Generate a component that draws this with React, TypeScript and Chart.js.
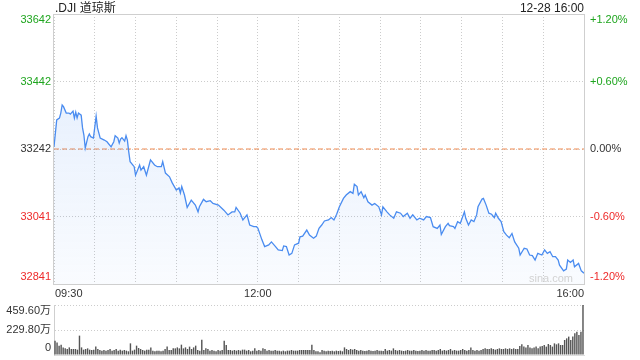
import React, { useEffect, useRef } from "react";
import { Chart, registerables } from "chart.js";

Chart.register(...registerables);

const title = ".DJI 道琼斯";
const stamp = "12-28 16:00";
const watermark = "sina.com";

const minutes = [0,2,4,5,6,7,9,11,12,14,
15,16,17,18,20,21,22,23,25,26,
27,29,31,32,34,37,39,42,44,45,
47,48,49,50,52,53,54,55,56,59,
60,63,64,66,68,70,71,74,76,79,
80,82,85,87,90,92,93,94,96,98,
101,104,106,107,110,112,115,117,121,125,
128,131,133,134,137,139,142,144,147,149,
150,153,155,158,160,163,165,168,169,171,
173,175,177,180,181,183,186,188,191,193,
195,197,199,202,204,206,208,210,213,215,
218,220,221,223,224,226,228,229,231,234,
236,239,241,242,245,247,250,252,255,257,
260,262,264,267,269,272,274,277,279,282,
284,285,288,290,291,294,295,297,299,302,
303,305,307,309,311,312,315,316,318,320,
322,324,325,327,329,331,333,335,337,339,
342,343,346,348,350,352,354,356,359,361,
363,365,367,369,371,372,375,377,378,380,
382,383,386,388,390];

const prices = [33248,33328,33333,33348,33372,33367,33348,33348,33345,33354,
33333,33351,33334,33348,33342,33304,33283,33244,33278,33286,
33278,33274,33339,33304,33274,33268,33263,33248,33263,33281,
33274,33259,33271,33275,33265,33281,33268,33233,33204,33189,
33164,33194,33179,33189,33164,33194,33209,33194,33189,33189,
33204,33170,33159,33141,33120,33126,33111,33130,33105,33068,
33090,33075,33055,33070,33092,33085,33088,33080,33075,33060,
33046,33055,33055,33068,33051,33031,33046,33016,33011,33011,
33007,32972,32952,32957,32966,32952,32942,32940,32954,32952,
32927,32932,32957,32962,32981,32983,33001,32986,32977,32983,
33006,33016,33028,33031,33038,33031,33048,33070,33095,33105,
33115,33110,33137,33130,33105,33115,33097,33105,33085,33075,
33080,33070,33046,33070,33055,33046,33036,33055,33051,33041,
33051,33036,33046,33031,33036,33031,33041,33038,33011,33006,
33016,32988,33011,33021,33014,33011,33006,33026,33021,33055,
33036,33016,33031,33026,33046,33070,33093,33095,33075,33051,
33048,33038,33051,33036,33026,32996,32986,32978,32991,32966,
32947,32927,32947,32945,32927,32925,32912,32932,32927,32942,
32932,32937,32922,32922,32912,32897,32880,32885,32912,32905,
32912,32892,32902,32880,32873];

const prevClose = 33241.5;
const priceMin = 32841;
const priceMax = 33642;
const priceLabels = ["33642", "33442", "33242", "33041", "32841"];
const pctLabels = ["+1.20%", "+0.60%", "0.00%", "-0.60%", "-1.20%"];
const timeLabels = ["09:30", "12:00", "16:00"];
const timeLabelMinutes = [0, 150, 390];
const sessionMinutes = 390;

const volumes = [132,116,86,95,70,61,55,70,55,55,
55,49,178,70,49,55,61,49,46,49,
77,55,46,40,46,40,46,55,40,46,
55,40,49,40,46,40,34,107,40,49,
86,64,55,46,40,49,49,70,40,34,
40,40,34,40,55,77,46,46,61,61,
70,61,95,61,70,55,77,55,70,86,
46,40,141,46,61,55,40,46,40,34,
46,40,46,132,92,46,46,40,46,40,
46,40,49,49,40,46,34,40,61,40,
46,40,61,55,40,46,40,40,46,40,
40,34,40,34,40,40,46,40,40,40,
46,46,46,46,46,46,95,46,34,34,
25,46,
40,34,40,37,40,34,40,37,40,34,
70,55,46,55,49,55,46,
40,46,40,37,40,46,40,37,40,46,40,40,37,
55,40,46,40,61,
46,40,46,40,37,40,46,40,40,46,40,37,40,46,40,46,40,40,46,
46,40,46,55,40,46,40,46,55,40,46,40,40,46,55,46,40,46,
70,46,40,46,40,46,
55,61,55,55,61,55,49,55,61,55,
55,61,55,61,55,61,55,55,
83,98,77,70,92,70,61,70,77,61,77,83,92,77,101,92,77,107,98,107,92,92,138,153,169,138,169,199,214,184,214,459.6];

const volMax = 459.6;
const volTickValues = [459.6, 229.8, 0];
const volTickLabels = ["459.60万", "229.80万", "0"];

const FONT = 'Arial, "Liberation Sans", "Noto Sans CJK SC", sans-serif';
const GREEN = "#1ea51e";
const RED = "#ee2a2a";
const DARK = "#333333";
const GRID = "#cccccc";
const BORDER = "#cfcfcf";

const mainPlugin = {
  id: "mainLabels",
  beforeDatasetsDraw(chart: any) {
    const { ctx, chartArea: a } = chart;
    ctx.save();
    ctx.strokeStyle = BORDER;
    ctx.lineWidth = 1;
    ctx.strokeRect(Math.round(a.left) - 0.5, Math.round(a.top) + 0.5, Math.round(a.right - a.left) + 1, Math.round(a.bottom - a.top));
    ctx.restore();
  },
  afterDraw(chart: any) {
    const { ctx, chartArea: a, scales } = chart;
    const ys = scales.y;
    const xs = scales.x;
    ctx.save();
    ctx.textBaseline = "middle";
    ctx.font = `11px ${FONT}`;
    const n = priceLabels.length;
    for (let i = 0; i < n; i++) {
      const v = priceMax - (i * (priceMax - priceMin)) / (n - 1);
      let py = ys.getPixelForValue(v);
      if (i === 0) py += 6;
      if (i === n - 1) py -= 7;
      ctx.fillStyle = i < (n - 1) / 2 ? GREEN : i === (n - 1) / 2 ? DARK : RED;
      ctx.textAlign = "right";
      ctx.fillText(priceLabels[i], a.left - 3, py);
      ctx.textAlign = "left";
      ctx.fillText(pctLabels[i], a.right + 6, py);
    }
    ctx.fillStyle = DARK;
    timeLabels.forEach((t, i) => {
      const px = xs.getPixelForValue(timeLabelMinutes[i]);
      ctx.textAlign = i === 0 ? "left" : i === timeLabels.length - 1 ? "right" : "center";
      ctx.fillText(t, i === 0 ? px + 1 : px, a.bottom + 9.5);
    });
    ctx.font = `12px ${FONT}`;
    ctx.fillStyle = "#222";
    ctx.textAlign = "left";
    ctx.fillText(title, a.left + 1, a.top - 5.5);
    ctx.textAlign = "right";
    ctx.fillText(stamp, a.right, a.top - 5.5);
    ctx.font = `11px ${FONT}`;
    ctx.fillStyle = "#d2d2d2";
    ctx.fillText(watermark, a.right - 11, a.bottom - 5);
    ctx.restore();
  },
};

const volPlugin = {
  id: "volLabels",
  afterDraw(chart: any) {
    const { ctx, chartArea: a, scales } = chart;
    const ys = scales.y;
    ctx.save();
    ctx.textBaseline = "middle";
    ctx.font = `11px ${FONT}`;
    ctx.fillStyle = DARK;
    ctx.textAlign = "right";
    volTickValues.forEach((v, i) => {
      let py = ys.getPixelForValue(v);
      if (i === 0) py += 6;
      if (i === volTickValues.length - 1) py -= 7;
      ctx.fillText(volTickLabels[i], a.left - 3, py);
    });
    ctx.restore();
  },
};

export default function App() {
  const mainRef = useRef<HTMLCanvasElement>(null);
  const volRef = useRef<HTMLCanvasElement>(null);

  useEffect(() => {
    const priceData = minutes.map((m, i) => ({ x: m, y: prices[i] }));
    const refData = [
      { x: 0, y: prevClose },
      { x: sessionMinutes, y: prevClose },
    ];
    const main = new Chart(mainRef.current as HTMLCanvasElement, {
      type: "line",
      data: {
        datasets: [
          {
            data: priceData,
            borderColor: "#4a8cf0",
            borderWidth: 1.3,
            pointRadius: 0,
            tension: 0,
            fill: "start",
            backgroundColor: (c: any) => {
              const a = c.chart.chartArea;
              if (!a) return "rgba(74,140,240,0.1)";
              const g = c.chart.ctx.createLinearGradient(0, a.top, 0, a.bottom);
              g.addColorStop(0, "rgba(74,140,240,0.17)");
              g.addColorStop(1, "rgba(74,140,240,0.03)");
              return g;
            },
            order: 1,
          },
          {
            data: refData,
            borderColor: "#f08a50",
            borderWidth: 1,
            borderDash: [5, 3],
            pointRadius: 0,
            fill: false,
            order: 2,
          },
        ],
      },
      options: {
        responsive: false,
        animation: false,
        events: [],
        layout: { padding: { left: 54, right: 56, top: 14, bottom: 16 } },
        plugins: { legend: { display: false }, tooltip: { enabled: false } },
        scales: {
          x: {
            type: "linear",
            min: 0,
            max: sessionMinutes,
            ticks: { display: false, stepSize: 30 },
            grid: { color: GRID, drawTicks: false, tickLength: 0 },
            border: { display: false, dash: [1, 2] },
          },
          y: {
            type: "linear",
            min: priceMin,
            max: priceMax,
            afterBuildTicks: (s: any) => {
              const n = priceLabels.length;
              s.ticks = priceLabels.map((_, i) => ({ value: priceMin + (i * (priceMax - priceMin)) / (n - 1) }));
            },
            ticks: { display: false },
            grid: { color: GRID, drawTicks: false, tickLength: 0 },
            border: { display: false, dash: [1, 2] },
          },
        },
      },
      plugins: [mainPlugin],
    } as any);

    const vol = new Chart(volRef.current as HTMLCanvasElement, {
      type: "bar",
      data: {
        labels: volumes.map((_, i) => String(i)),
        datasets: [
          {
            data: volumes,
            backgroundColor: "#555555",
            barPercentage: 0.7,
            categoryPercentage: 1,
          },
        ],
      },
      options: {
        responsive: false,
        animation: false,
        events: [],
        layout: { padding: { left: 54, right: 56, top: 5, bottom: 5 } },
        plugins: { legend: { display: false }, tooltip: { enabled: false } },
        scales: {
          x: {
            ticks: { display: false },
            grid: { display: false, drawTicks: false },
            border: { display: true, color: "#dddddd" },
          },
          y: {
            min: 0,
            max: volMax,
            afterBuildTicks: (s: any) => {
              s.ticks = volTickValues.map((v) => ({ value: v }));
            },
            ticks: { display: false },
            grid: { color: GRID, drawTicks: false, tickLength: 0 },
            border: { display: true, color: BORDER, dash: [1, 2] },
          },
        },
      },
      plugins: [volPlugin],
    } as any);

    return () => {
      main.destroy();
      vol.destroy();
    };
  }, []);

  return (
    <div style={{ position: "fixed", left: 0, top: 0, width: 640, height: 360, background: "#fff" }}>
      <canvas ref={mainRef} width={640} height={300} style={{ position: "absolute", left: 0, top: 0, display: "block" }} />
      <canvas ref={volRef} width={640} height={60} style={{ position: "absolute", left: 0, top: 300, display: "block" }} />
    </div>
  );
}
